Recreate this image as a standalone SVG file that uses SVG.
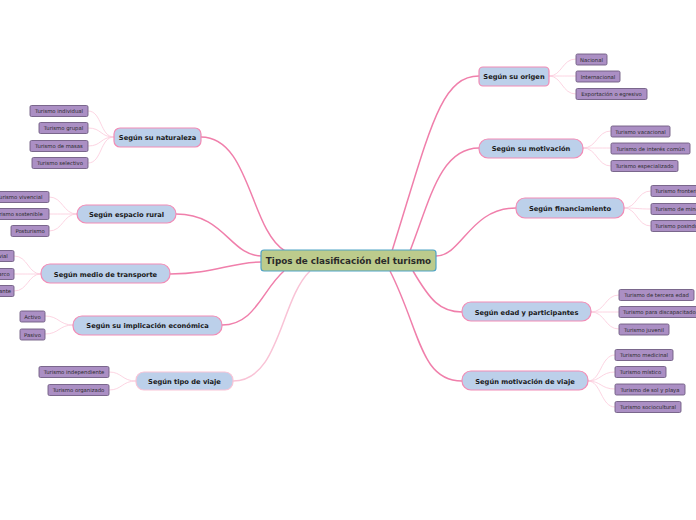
<svg xmlns="http://www.w3.org/2000/svg" width="696" height="520" viewBox="0 0 696 520">
<style>
.c{fill:none;stroke:#f07fab;stroke-width:1.5}
.cl{fill:none;stroke:#f9c3d6;stroke-width:1.5}
.l{fill:none;stroke:#fbc9da;stroke-width:0.8}
.b rect{fill:#bcd0ea;stroke:#f28bb5;stroke-width:1.2}
.lf rect{fill:#ab8fc4;stroke:#6f5c82;stroke-width:0.9}
.b text{font-family:"DejaVu Sans",Verdana,sans-serif;font-weight:bold;font-size:6.7px;fill:#1a1a1a;text-anchor:middle}
.lf text{font-family:"DejaVu Sans",Verdana,sans-serif;font-size:5.3px;fill:#2a2a2a;text-anchor:middle}
#central text{font-family:"DejaVu Sans",Verdana,sans-serif;font-weight:bold;font-size:8.8px;fill:#2a2a2a;text-anchor:middle}
</style>
<rect width="696" height="520" fill="#fff"/>
<g id="connectors">
<path class="c" d="M201,137 C250,137 250,230 285,251"/>
<path class="c" d="M176,214 C225,214 230,256 262,256"/>
<path class="c" d="M170,274 C215,274 230,262 262,262"/>
<path class="c" d="M222,325 C255,325 262,290 284,271"/>
<path class="cl" d="M233,381 C280,381 280,300 310,271"/>
<path class="c" d="M479,76 C440,76 430,130 392,251"/>
<path class="c" d="M479,148 C440,148 430,200 410,251"/>
<path class="c" d="M516,208 C470,208 462,256 436,256"/>
<path class="c" d="M462,312 C440,312 430,300 413,271"/>
<path class="c" d="M462,381 C420,381 420,330 390,271"/>
<path class="l" d="M114,137 C100,137 102,111 88,111"/>
<path class="l" d="M114,137 C100,137 102,128 88,128"/>
<path class="l" d="M114,137 C100,137 102,146 88,146"/>
<path class="l" d="M114,137 C100,137 102,163 88,163"/>
<path class="l" d="M77,214 C63,214 63,197 49,197"/>
<path class="l" d="M77,214 C63,214 63,214 49,214"/>
<path class="l" d="M77,214 C63,214 63,231 49,231"/>
<path class="l" d="M41,274 C28,274 28,256 14,256"/>
<path class="l" d="M41,274 C28,274 28,274 14,274"/>
<path class="l" d="M41,274 C28,274 28,291 14,291"/>
<path class="l" d="M73,325 C59,325 59,316 45,316"/>
<path class="l" d="M73,325 C59,325 59,334 45,334"/>
<path class="l" d="M136,381 C122,381 122,372 109,372"/>
<path class="l" d="M136,381 C122,381 122,390 109,390"/>
<path class="l" d="M549,76 C562,76 562,59 576,59"/>
<path class="l" d="M549,76 C562,76 562,76 576,76"/>
<path class="l" d="M549,76 C562,76 562,94 576,94"/>
<path class="l" d="M583,148 C597,148 597,131 611,131"/>
<path class="l" d="M583,148 C597,148 597,148 611,148"/>
<path class="l" d="M583,148 C597,148 597,166 611,166"/>
<path class="l" d="M624,208 C637,208 637,191 651,191"/>
<path class="l" d="M624,208 C637,208 637,209 651,209"/>
<path class="l" d="M624,208 C637,208 637,226 651,226"/>
<path class="l" d="M591,312 C605,312 605,295 619,295"/>
<path class="l" d="M591,312 C605,312 605,312 619,312"/>
<path class="l" d="M591,312 C605,312 605,329 619,329"/>
<path class="l" d="M588,381 C601,381 601,355 615,355"/>
<path class="l" d="M588,381 C601,381 601,372 615,372"/>
<path class="l" d="M588,381 C601,381 601,389 615,389"/>
<path class="l" d="M588,381 C601,381 601,407 615,407"/>
</g>
<g id="central"><rect x="261" y="250" width="175" height="21" rx="3" fill="#bccb8c" stroke="#4fa3c6" stroke-width="1.2"/><text x="348.5" y="264">Tipos de clasificación del turismo</text></g>
<g id="b-naturaleza" class="b"><rect x="114" y="128" width="87" height="19" rx="6"/><text x="157.5" y="140">Según su naturaleza</text></g>
<g id="b-rural" class="b"><rect x="77" y="205" width="99" height="18" rx="9"/><text x="126.5" y="216.5">Según espacio rural</text></g>
<g id="b-transporte" class="b"><rect x="41" y="264" width="129" height="19" rx="9"/><text x="105.5" y="276.5">Según medio de transporte</text></g>
<g id="b-implicacion" class="b"><rect x="73" y="316" width="149" height="19" rx="9"/><text x="147.5" y="328">Según su implicación económica</text></g>
<g id="b-tipo" class="b"><rect x="136" y="372" width="97" height="18" rx="8" style="stroke:#f9c3d6"/><text x="184.5" y="383.5">Según tipo de viaje</text></g>
<g id="b-origen" class="b"><rect x="479" y="67" width="70" height="19" rx="4"/><text x="514" y="79">Según su origen</text></g>
<g id="b-motivacion" class="b"><rect x="479" y="139" width="104" height="19" rx="9"/><text x="531" y="151">Según su motivación</text></g>
<g id="b-financiamiento" class="b"><rect x="516" y="198" width="108" height="20" rx="9"/><text x="570" y="210.5">Según financiamiento</text></g>
<g id="b-edad" class="b"><rect x="462" y="302" width="129" height="19" rx="9"/><text x="526.5" y="314.5">Según edad y participantes</text></g>
<g id="b-motviaje" class="b"><rect x="462" y="371" width="126" height="19" rx="9"/><text x="525" y="383.5">Según motivación de viaje</text></g>
<g id="l-individual" class="lf"><rect x="30" y="105.5" width="58" height="11" rx="1.5"/><text x="59" y="113">Turismo individual</text></g>
<g id="l-grupal" class="lf"><rect x="39" y="122.5" width="49" height="11" rx="1.5"/><text x="63.5" y="130">Turismo grupal</text></g>
<g id="l-masas" class="lf"><rect x="30" y="140.5" width="58" height="11" rx="1.5"/><text x="59" y="148">Turismo de masas</text></g>
<g id="l-selectivo" class="lf"><rect x="32" y="157.5" width="56" height="11" rx="1.5"/><text x="60" y="165">Turismo selectivo</text></g>
<g id="l-vivencial" class="lf"><rect x="-10" y="191.5" width="59" height="11" rx="1.5"/><text x="19.5" y="199">Turismo vivencial</text></g>
<g id="l-sostenible" class="lf"><rect x="-13" y="208.5" width="62" height="11" rx="1.5"/><text x="18" y="216">Turismo sostenible</text></g>
<g id="l-posturismo" class="lf"><rect x="11" y="225.5" width="38" height="11" rx="1.5"/><text x="30" y="233">Posturismo</text></g>
<g id="l-vial" class="lf"><rect x="-30" y="250.5" width="44" height="11" rx="1.5"/><text x="-8" y="258">Turismo vial</text></g>
<g id="l-barco" class="lf"><rect x="-40" y="268.5" width="54" height="11" rx="1.5"/><text x="-13" y="276">Turismo en barco</text></g>
<g id="l-itinerante" class="lf"><rect x="-40" y="285.5" width="54" height="11" rx="1.5"/><text x="-13" y="293">Turismo itinerante</text></g>
<g id="l-activo" class="lf"><rect x="20" y="311" width="25" height="11" rx="1.5"/><text x="32.5" y="318.5">Activo</text></g>
<g id="l-pasivo" class="lf"><rect x="20" y="329" width="25" height="11" rx="1.5"/><text x="32.5" y="336.5">Pasivo</text></g>
<g id="l-independiente" class="lf"><rect x="39" y="366.5" width="70" height="11" rx="1.5"/><text x="74" y="374">Turismo independiente</text></g>
<g id="l-organizado" class="lf"><rect x="48" y="384.5" width="61" height="11" rx="1.5"/><text x="78.5" y="392">Turismo organizado</text></g>
<g id="l-nacional" class="lf"><rect x="576" y="54" width="31" height="11" rx="1.5"/><text x="591.5" y="61.5">Nacional</text></g>
<g id="l-internacional" class="lf"><rect x="576" y="71" width="44" height="11" rx="1.5"/><text x="598" y="78.5">Internacional</text></g>
<g id="l-exportacion" class="lf"><rect x="576" y="88.5" width="71" height="11" rx="1.5"/><text x="611.5" y="96">Exportación o egresivo</text></g>
<g id="l-vacacional" class="lf"><rect x="611" y="126" width="59" height="11" rx="1.5"/><text x="640.5" y="133.5">Turismo vacacional</text></g>
<g id="l-interes" class="lf"><rect x="611" y="143" width="79" height="11" rx="1.5"/><text x="650.5" y="150.5">Turismo de interés común</text></g>
<g id="l-especializado" class="lf"><rect x="611" y="160.5" width="67" height="11" rx="1.5"/><text x="644.5" y="168">Turismo especializado</text></g>
<g id="l-fronterizo" class="lf"><rect x="651" y="185.5" width="60" height="11" rx="1.5"/><text x="655" y="193" style="text-anchor:start">Turismo fronterizo</text></g>
<g id="l-minorias" class="lf"><rect x="651" y="203.5" width="60" height="11" rx="1.5"/><text x="655" y="211" style="text-anchor:start">Turismo de minorías</text></g>
<g id="l-posindustrial" class="lf"><rect x="651" y="220.5" width="60" height="11" rx="1.5"/><text x="655" y="228" style="text-anchor:start">Turismo posindustrial</text></g>
<g id="l-tercera" class="lf"><rect x="619" y="289.5" width="75" height="11" rx="1.5"/><text x="656.5" y="297">Turismo de tercera edad</text></g>
<g id="l-discapacitados" class="lf"><rect x="619" y="306.5" width="90" height="11" rx="1.5"/><text x="623" y="314" style="text-anchor:start">Turismo para discapacitados</text></g>
<g id="l-juvenil" class="lf"><rect x="619" y="324" width="50" height="11" rx="1.5"/><text x="644" y="331.5">Turismo juvenil</text></g>
<g id="l-medicinal" class="lf"><rect x="615" y="349.5" width="58" height="11" rx="1.5"/><text x="644" y="357">Turismo medicinal</text></g>
<g id="l-mistico" class="lf"><rect x="615" y="366.5" width="51" height="11" rx="1.5"/><text x="640.5" y="374">Turismo místico</text></g>
<g id="l-sol" class="lf"><rect x="615" y="384" width="70" height="11" rx="1.5"/><text x="650" y="391.5">Turismo de sol y playa</text></g>
<g id="l-sociocultural" class="lf"><rect x="615" y="401.5" width="66" height="11" rx="1.5"/><text x="648" y="409">Turismo sociocultural</text></g>
</svg>
